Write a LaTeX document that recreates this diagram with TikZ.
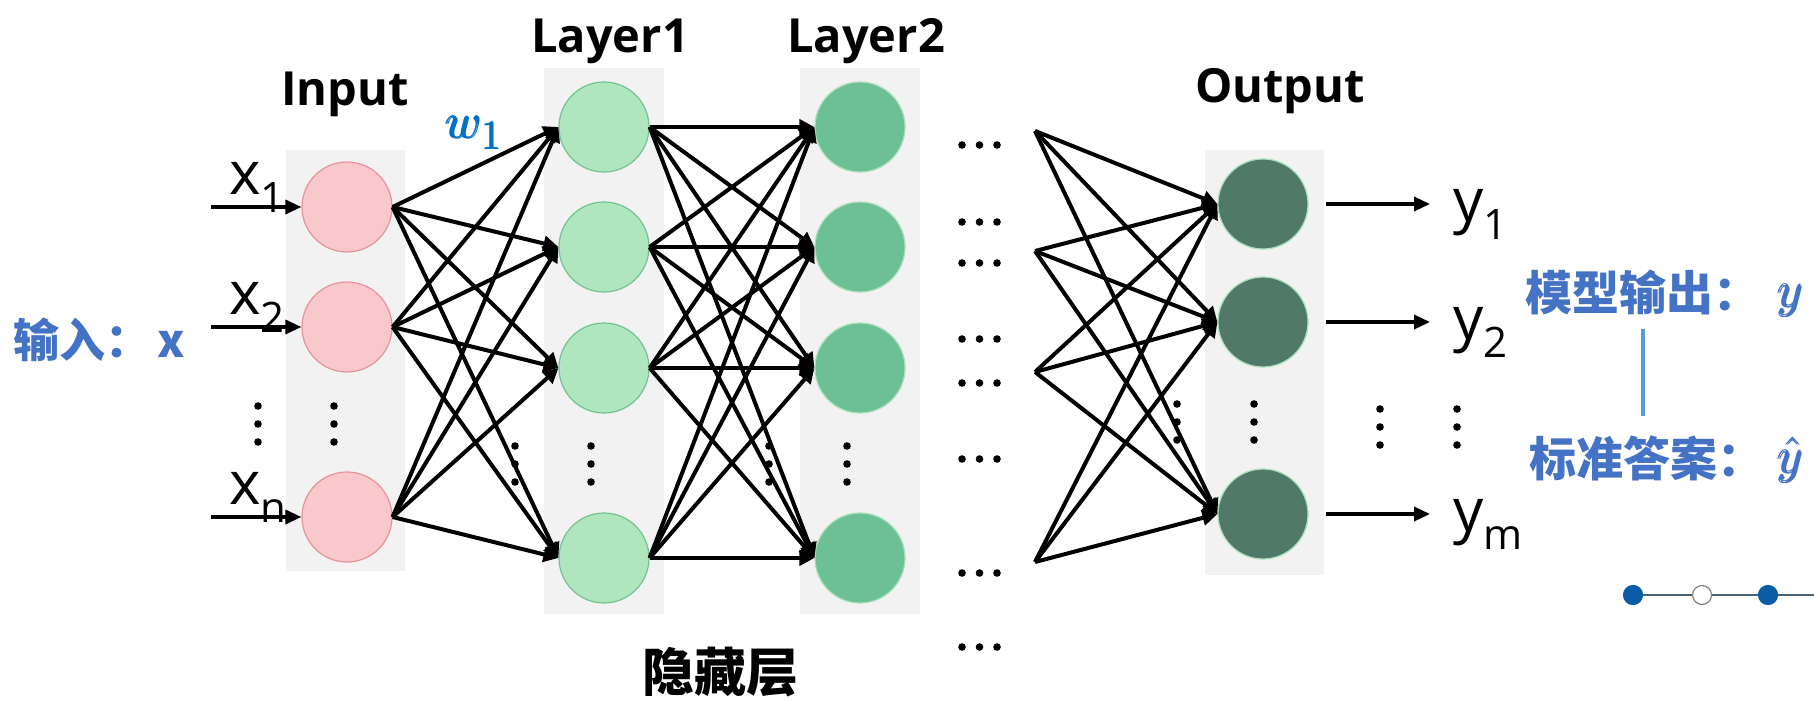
\documentclass[tikz,border=0pt]{standalone}
\usepackage{amsmath}
\usepackage{fontspec}
\setmainfont{Open Sans}
\newfontfamily\cjk{Noto Sans CJK SC}
\usetikzlibrary{arrows.meta}
\newcommand{\Unit}{0.5pt}
\newcommand{\Wire}{2pt}
\newcommand{\Sym}[2]{\fontsize{30}{30}\selectfont #1\raisebox{-9pt}{\fontsize{21}{21}\selectfont #2}}
\definecolor{panel}{HTML}{F2F2F2}
\definecolor{inFill}{HTML}{F8C8CC}
\definecolor{inEdge}{HTML}{E8939A}
\definecolor{hidA}{HTML}{AFE6BE}
\definecolor{hidAEdge}{HTML}{74C38E}
\definecolor{hidB}{HTML}{6DBF95}
\definecolor{outFill}{HTML}{50796A}
\definecolor{softEdge}{HTML}{A8E0B8}
\definecolor{label}{HTML}{4472C4}
\definecolor{weight}{HTML}{0070C0}
\definecolor{rule}{HTML}{5B9BD5}
\definecolor{pip}{HTML}{0B5CA6}
\definecolor{pipline}{HTML}{4B6070}
\tikzset{
  neuron/.style={circle,minimum size=45pt,inner sep=0pt,line width=0.6pt},
  wire/.style={line width=\Wire,-{Triangle[length=7.5pt,width=7.5pt]}},
  feed/.style={line width=1.7pt,-{Triangle[length=8pt,width=7pt]}},
  head/.style={anchor=base,inner sep=0pt,font=\fontsize{23.5}{24}\selectfont\bfseries},
  cjklabel/.style={anchor=base west,inner sep=0pt,text=label,font=\fontsize{23.5}{24}\selectfont\cjk\bfseries},
}

\begin{document}
\begin{tikzpicture}[x=\Unit,y=-\Unit, line join=round]
  \useasboundingbox (0,0) rectangle (1814,701);

  % ---- grey panels behind the columns -----------------------------------
  \fill[panel] (286,150) rectangle (405,571);
  \fill[panel] (544,68) rectangle (664,614);
  \fill[panel] (800,68) rectangle (920,614);
  \fill[panel] (1205,150) rectangle (1324,575);

  % ---- column titles ------------------------------------------------------
  \node[head] (tin) at (345,105) {Input};
  \node[head] (tla) at (610,53) {Layer1};
  \node[head] (tlb) at (866,53) {Layer2};
  \node[head] (tout) at (1280,103) {Output};
  \node[cjklabel,text=black,font=\fontsize{26}{26}\selectfont\cjk\bfseries] (hid) at (642,691) {隐藏层};

  % ---- neurons ------------------------------------------------------------
  \foreach \n/\y in {1/207,2/327,3/517}
    \node[neuron,fill=inFill,draw=inEdge] (i\n) at (347,\y) {};
  \foreach \n/\y in {1/127,2/247,3/368,4/558} {
    \node[neuron,fill=hidA,draw=hidAEdge] (a\n) at (604,\y) {};
    \node[neuron,fill=hidB,draw=softEdge] (b\n) at (860,\y) {};
    \coordinate (c\n) at (1035,\y+4);
  }
  \foreach \n/\y in {1/204,2/322,3/514}
    \node[neuron,fill=outFill,draw=softEdge] (o\n) at (1263,\y) {};

  % ---- dots: some sit under the wires, so they go first -------------------
  \foreach \x/\y in {258/406,334/406,515/446,591/446,769/446,847/446,1177/404,1254/404,1380/409,1457/409}
    \foreach \d in {0,1,2} \fill (\x,\y+\d*18) circle (3.8);
  \foreach \y in {145,222,263,339,383,459,573,647}
    \foreach \d in {0,1,2} \fill (962+\d*17.5,\y) circle (3.8);

  % ---- wires, every source to every target --------------------------------
  \foreach \s in {1,2,3} \foreach \t in {1,...,4} \draw[wire] (i\s.east) -- (a\t.west);
  \foreach \s in {1,...,4} \foreach \t in {1,...,4} \draw[wire] (a\s.east) -- (b\t.west);
  \foreach \s in {1,...,4} \foreach \t in {1,2,3} \draw[wire] (c\s) -- (o\t.west);

  % ---- inputs and outputs -------------------------------------------------
  \foreach \n/\y/\sub in {1/207/1,2/327/2,3/517/n} {
    \coordinate (xs\n) at (211,\y);
    \draw[feed] (xs\n) -- (i\n.west);
    \node[anchor=base west,inner sep=0pt] (x\n) at (229,\y-13) {\Sym{x}{\sub}};
  }
  \foreach \n/\y/\sub in {1/204/1,2/322/2,3/514/m} {
    \coordinate (yt\n) at (1430,\y);
    \draw[feed] ([xshift=8.5pt]o\n.east) -- (yt\n);
    \node[anchor=base west,inner sep=0pt] (y\n) at (1453,\y+17) {\Sym{y}{\sub}};
  }
  \node[anchor=base west,inner sep=0pt,text=weight] (w1) at (446,139) {\fontsize{32}{32}\selectfont$\pmb{w}_{\pmb{1}}$};

  % ---- side notes in blue -------------------------------------------------
  \node[cjklabel,font=\fontsize{23}{23}\selectfont\cjk\bfseries] (xin) at (13,357) {输入：\hspace{3pt}x};
  \node[cjklabel] (pred) at (1525,310) {模型输出：};
  \node[cjklabel] (truth) at (1529,476) {标准答案：};
  \node[anchor=base west,inner sep=0pt,text=label] (predy) at (1778,307) {\fontsize{26}{26}\selectfont$\pmb{y}$};
  \node[anchor=base west,inner sep=0pt,text=label] (truthy) at (1778,473) {\fontsize{26}{26}\selectfont$\pmb{\hat{y}}$};
  \draw[rule,line width=2pt,shorten <=7pt,shorten >=9.5pt] (pred.south) -- (pred.south |- truth.north);

  % ---- page marker, bottom right ------------------------------------------
  \draw[pipline,line width=0.6pt] (1633,595) -- (1814,595);
  \foreach \x/\f/\e in {1633/pip/pip,1702/white/gray,1768/pip/pip}
    \filldraw[fill=\f,draw=\e,line width=0.6pt] (\x,595) circle (9.5);

\end{tikzpicture}
\end{document}
